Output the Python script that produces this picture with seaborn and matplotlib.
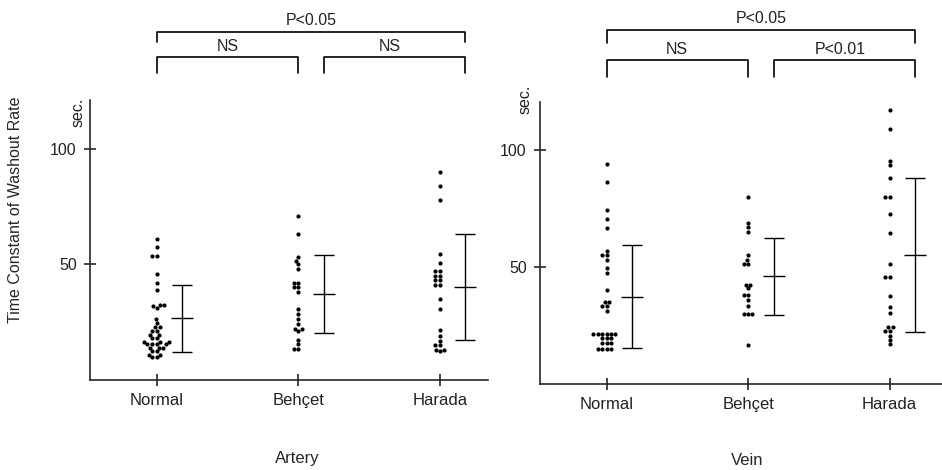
import numpy as np
import pandas as pd
import seaborn as sns
import matplotlib.pyplot as plt

# groups
groups = ['Normal', 'Behçet', 'Harada']

# individual values (sec.)
art_normal = [61, 57.5, 53.5, 53.5, 46, 42, 39, 32.3, 32.3, 32, 31, 26.3, 24.5, 22.7, 22.7,
              21, 21, 19.5, 19.5, 18, 18, 16.5, 16.5, 16.5, 15.5, 15.5, 15.5, 15.5,
              14, 14, 14, 12.5, 12.5, 11, 11, 9.8, 9.8]
art_behcet = [71, 63, 53, 51.5, 50, 48, 42, 42, 40, 40, 38, 30.5, 28.5, 26.5, 24, 22, 22,
              21, 17.5, 15.5, 13.5, 13.5]
art_harada = [90, 84, 78, 54.5, 50.5, 47, 47, 45, 45, 43, 43, 41, 41, 35, 30.5, 21.5, 19,
              17, 15, 15, 13, 13, 12.5]

vein_normal = [94, 86.5, 74.5, 70.5, 66.5, 57, 55, 55, 53, 49.5, 47.5, 40, 35, 35, 33.4, 33.4,
               31.3, 21.4, 21.4, 21.4, 21.4, 21.4, 21.4, 19.5, 19.5, 19.5, 17.5, 17.5, 17.5,
               15.1, 15.1, 15.1, 15.1]
vein_behcet = [80, 69, 67, 65, 55, 53, 51.3, 51.3, 42.5, 42.5, 41, 38, 38, 36, 33.4,
               30.1, 30.1, 30.1, 16.5]
vein_harada = [117, 109, 95.3, 93.5, 88, 80, 80, 72.8, 64.6, 51.4, 45.6, 45.6, 37.6, 32.7,
               30.5, 24.5, 24.5, 22.8, 22.8, 20.7, 18.8, 16.9]

# mean and SD shown beside each group
art_mean = [26.7, 37.1, 40.2]
art_sd = [14.5, 17.0, 23.0]
vein_mean = [37.2, 46.0, 55.2]
vein_sd = [22.0, 16.4, 33.0]

# significance labels: all groups, Normal-Behcet, Behcet-Harada
art_pvals = ['P<0.05', 'NS', 'NS']
vein_pvals = ['P<0.05', 'NS', 'P<0.01']


def to_long(vals):
    rows = []
    for g, v in zip(groups, vals):
        rows += [(g, x) for x in v]
    return pd.DataFrame(rows, columns=['group', 'value'])


art_df = to_long([art_normal, art_behcet, art_harada])
vein_df = to_long([vein_normal, vein_behcet, vein_harada])

sns.set_style('ticks')
plt.rcParams['font.family'] = ['Liberation Sans', 'DejaVu Sans']
plt.rcParams['axes.linewidth'] = 1.2
plt.rcParams['text.color'] = '#222222'
plt.rcParams['xtick.labelcolor'] = '#222222'
plt.rcParams['ytick.labelcolor'] = '#222222'

fig = plt.figure(figsize=(9.42, 4.7), dpi=100)
ax1 = fig.add_axes([90 / 942, 1 - 380 / 470, 398 / 942, 280 / 470])
ax2 = fig.add_axes([540 / 942, 1 - 384 / 470, 402 / 942, 282 / 470])

off = 0.18
for ax, df, m, s, pv, top, name in [
        (ax1, art_df, art_mean, art_sd, art_pvals, 121, 'Artery'),
        (ax2, vein_df, vein_mean, vein_sd, vein_pvals, 120.5, 'Vein')]:
    sns.swarmplot(data=df, x='group', y='value', order=groups, color='black',
                  size=3.0, ax=ax)
    xs = np.arange(3) + off
    ax.errorbar(xs, m, yerr=s, fmt='_', markersize=16, capsize=7, color='black',
                elinewidth=1.0, capthick=1.0, markeredgewidth=1.0)
    ax.set_xlim(-0.47, 2.34 if ax is ax1 else 2.37)
    ax.set_ylim(0, top)
    ax.set_yticks([50, 100])
    ax.tick_params(direction='inout', length=9, width=1.2, labelsize=11.5, pad=5)
    ax.tick_params(axis='x', labelsize=12)
    sns.despine(ax=ax)
    ax.set_ylabel('')
    ax.set_xlabel(name, fontsize=12)

    # brackets
    kw = dict(color='black', lw=1.2, clip_on=False)
    hi, hi_end = (150.4, 146) if ax is ax1 else (151.4, 145.5)
    lo, lo_end = (139.5, 132.8) if ax is ax1 else (138.3, 131.1)
    ax.plot([0, 0, 2 + off, 2 + off], [hi_end, hi, hi, hi_end], **kw)
    ax.plot([0, 0, 1, 1], [lo_end, lo, lo, lo_end], **kw)
    ax.plot([1 + off, 1 + off, 2 + off, 2 + off], [lo_end, lo, lo, lo_end], **kw)
    ax.text(1.09, hi + 1.5, pv[0], ha='center', va='bottom', fontsize=11.5)
    ax.text(0.5, lo + 1.5, pv[1], ha='center', va='bottom', fontsize=11.5)
    ax.text(1.65, lo + 1.5, pv[2], ha='center', va='bottom', fontsize=11.5)

ax1.xaxis.set_label_coords(0.52, -0.255)
ax2.xaxis.set_label_coords(0.515, -0.245)
ax1.text(-0.012, 0.955, 'sec.', transform=ax1.transAxes, rotation=90,
         ha='right', va='center', fontsize=11.5)
ax2.text(-0.018, 1.01, 'sec.', transform=ax2.transAxes, rotation=90,
         ha='right', va='center', fontsize=11.5)
ax1.set_ylabel('Time Constant of Washout Rate', fontsize=11.5)
ax1.yaxis.set_label_coords(-0.168, 0.607)

fig.savefig('out.png', dpi=100)
